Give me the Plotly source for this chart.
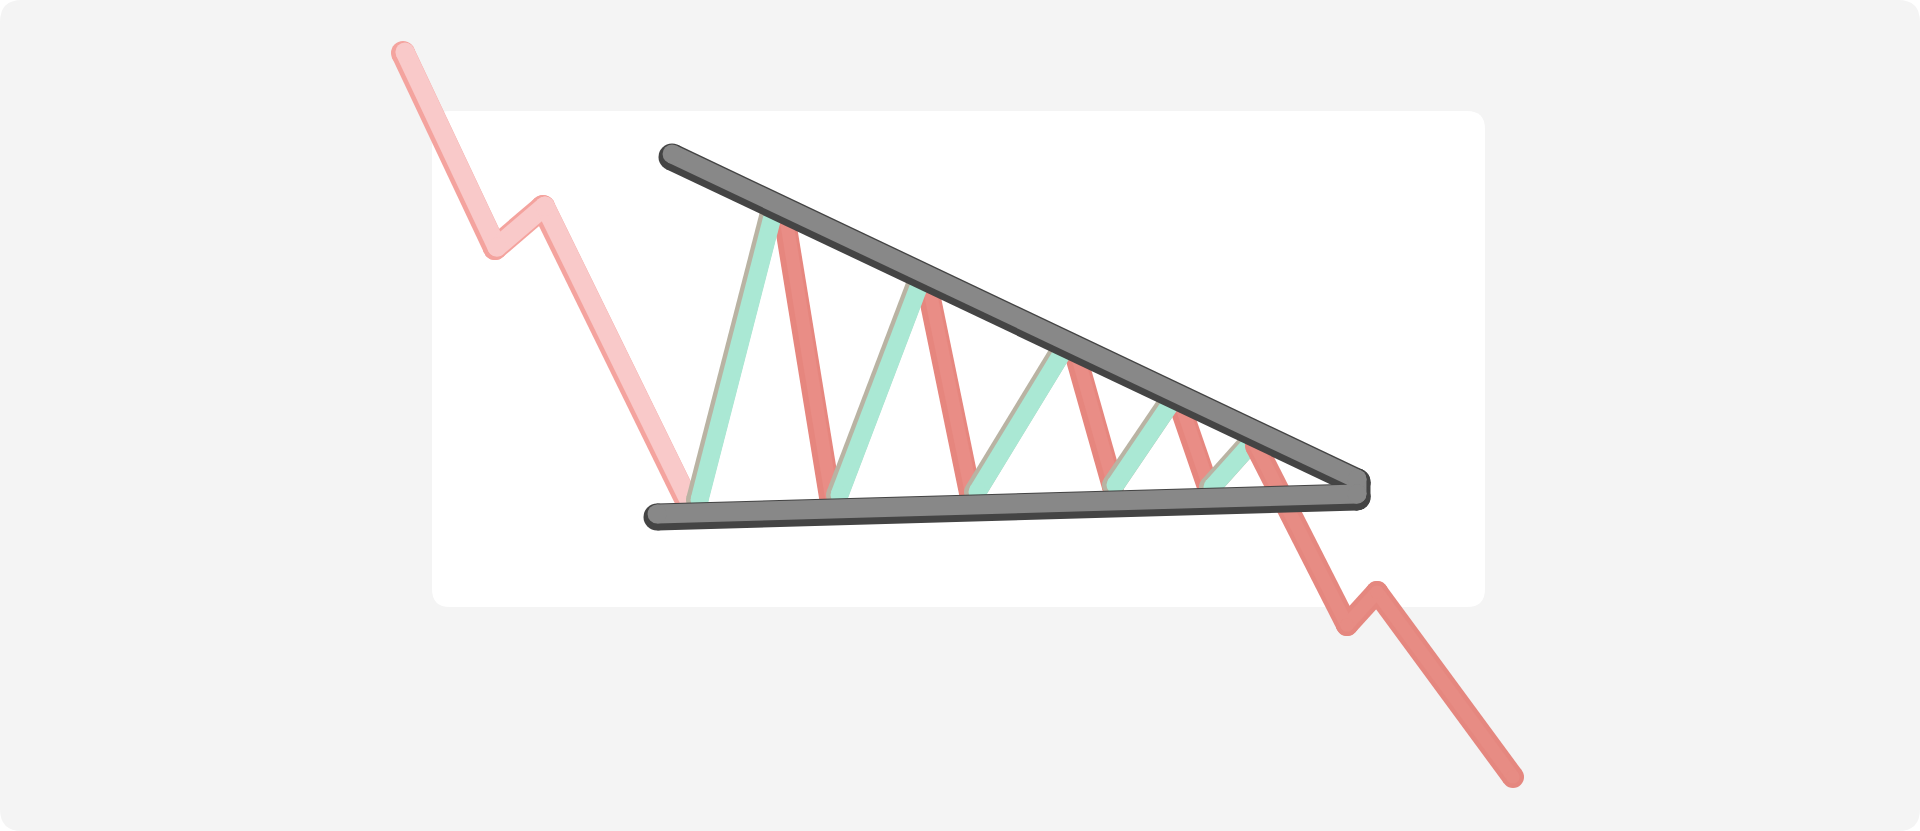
import plotly.graph_objects as go

# price path before the pattern (pale pink)
entry_x = [403, 495, 543, 688]
entry_y = [53, 248, 207, 503]

# rising legs inside the triangle (mint)
rise_x0 = [697, 837, 975, 1113, 1210]
rise_y0 = [500, 495, 492, 485, 487]
rise_x1 = [773, 918, 1064, 1172, 1252]
rise_y1 = [205, 282, 346, 398, 440]

# falling legs inside the triangle (salmon)
fall_x0 = [783, 926, 1074, 1178]
fall_y0 = [209, 279, 349, 400]
fall_x1 = [830, 970, 1113, 1208]
fall_y1 = [497, 493, 487, 487]

# breakdown after the pattern
exit_x = [1256, 1347, 1377, 1513]
exit_y = [446, 625, 592, 777]

# trend lines
upper_x = [672, 1357]
upper_y = [157, 482]
lower_x = [657, 1357]
lower_y = [517, 497]

W, H = 1920, 831


def rounded(x0, y0, x1, y1, r):
    return (f"M{x0+r},{y0} L{x1-r},{y0} Q{x1},{y0} {x1},{y0+r} "
            f"L{x1},{y1-r} Q{x1},{y1} {x1-r},{y1} L{x0+r},{y1} "
            f"Q{x0},{y1} {x0},{y1-r} L{x0},{y0+r} Q{x0},{y0} {x0+r},{y0} Z")


def layer(fig, xs, ys, color, width):
    # one trace per segment so every vertex gets a round cap instead of a miter
    for i in range(len(xs) - 1):
        fig.add_trace(go.Scatter(
            x=xs[i:i + 2], y=ys[i:i + 2], mode='lines+markers',
            line=dict(color=color, width=width),
            marker=dict(color=color, size=width, line=dict(width=0)),
            hoverinfo='skip'))


def tube(fig, xs, ys, dark, light, width, dx=0, dy=0, inner=0.6):
    layer(fig, xs, ys, dark, width)
    if light:
        layer(fig, [v + dx for v in xs], [v + dy for v in ys], light, width * inner)


fig = go.Figure()

tube(fig, entry_x, entry_y, '#f4a39e', '#f9c9c9', 24, dx=2, dy=-1, inner=0.8)

for i in range(len(fall_x0)):
    tube(fig, [fall_x0[i], fall_x1[i]], [fall_y0[i], fall_y1[i]],
         '#e6867e', '#e98d86', 22, dx=1.5, inner=0.6)

for i in range(len(rise_x0)):
    tube(fig, [rise_x0[i], rise_x1[i]], [rise_y0[i], rise_y1[i]],
         '#b9b3a3', '#aae8d4', 22, dx=2.5, inner=0.82)

tube(fig, exit_x, exit_y, '#e5877f', '#e78c84', 22, dx=0, inner=0.6)

gray_x = upper_x + lower_x[::-1]
gray_y = upper_y + lower_y[::-1]
tube(fig, gray_x, gray_y, '#444444', '#888888', 27, dy=-3, inner=0.7)

fig.update_layout(
    width=W,
    height=H,
    margin=dict(l=0, r=0, t=0, b=0),
    paper_bgcolor='white',
    plot_bgcolor='white',
    showlegend=False,
    hovermode=False,
    xaxis=dict(range=[0, W], visible=False, fixedrange=True),
    yaxis=dict(range=[H, 0], visible=False, fixedrange=True),
    shapes=[
        dict(type='path', path=rounded(0, 0, W, H, 22), xref='x', yref='y',
             fillcolor='#f4f4f4', line=dict(width=0), layer='below'),
        dict(type='path', path=rounded(432, 111, 1485, 607, 18), xref='x', yref='y',
             fillcolor='white', line=dict(width=0), layer='below'),
    ],
)

fig.write_html("out.html", config={'displayModeBar': False},
               post_script="document.body.style.margin='0';document.body.style.overflow='hidden';")
